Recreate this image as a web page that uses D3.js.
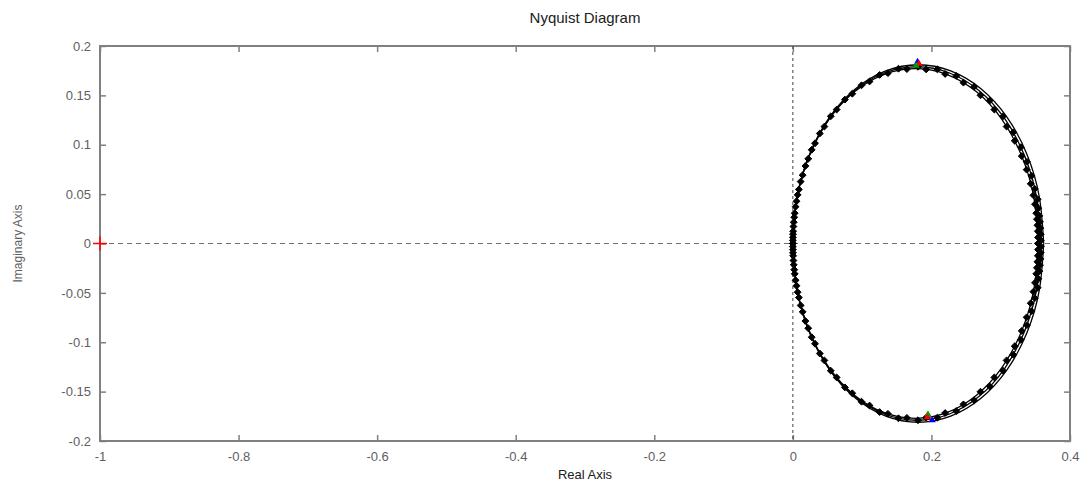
<!DOCTYPE html>
<html>
<head>
<meta charset="utf-8">
<script src="https://cdn.jsdelivr.net/npm/d3@7"></script>
<style>
  body { margin: 0; background: #fff; }
  text { font-family: "Liberation Sans", Arial, sans-serif; }
</style>
</head>
<body>
<div id="chart"></div>
<script>
// tick values and labels
var xTicks = [-1, -0.8, -0.6, -0.4, -0.2, 0, 0.2, 0.4]
var xLabels = ["-1", "-0.8", "-0.6", "-0.4", "-0.2", "0", "0.2", "0.4"]
var yTicks = [0.2, 0.15, 0.1, 0.05, 0, -0.05, -0.1, -0.15, -0.2]
var yLabels = ["0.2", "0.15", "0.1", "0.05", "0", "-0.05", "-0.1", "-0.15", "-0.2"]

// upper half of each Nyquist curve (w > 0)
var curveRe = [
    [0.362, 0.3558, 0.3378, 0.3090, 0.2715, 0.2278, 0.181, 0.1342, 0.0905, 0.0530, 0.0242, 0.0062, 0],
    [0.358, 0.3519, 0.3340, 0.3056, 0.2685, 0.2253, 0.179, 0.1327, 0.0895, 0.0524, 0.0240, 0.0061, 0],
    [0.354, 0.3480, 0.3303, 0.3022, 0.2655, 0.2228, 0.177, 0.1312, 0.0885, 0.0518, 0.0237, 0.0060, 0]
]
var curveIm = [
    [0, 0.0468, 0.0905, 0.1280, 0.1567, 0.1748, 0.181, 0.1748, 0.1567, 0.1280, 0.0905, 0.0468, 0],
    [0, 0.0463, 0.0895, 0.1266, 0.1550, 0.1729, 0.179, 0.1729, 0.1550, 0.1266, 0.0895, 0.0463, 0],
    [0, 0.0458, 0.0885, 0.1252, 0.1533, 0.1710, 0.177, 0.1710, 0.1533, 0.1252, 0.0885, 0.0458, 0]
]

// frequency response samples (black dots), upper half, inner curve
var sampleRe = [0.354, 0.3539, 0.3536, 0.3530, 0.3523, 0.3513, 0.3495, 0.3472, 0.3433, 0.3374,
    0.3303, 0.3202, 0.3085, 0.2908, 0.2708, 0.2462, 0.2198, 0.1924, 0.1646, 0.1372,
    0.1107, 0.0858, 0.0632, 0.0455, 0.0320, 0.0222, 0.0141, 0.0087, 0.0053, 0.0027,
    0.0013, 0.0004, 0.0001, 0]
var sampleIm = [0, 0.0062, 0.0124, 0.0185, 0.0246, 0.0307, 0.0398, 0.0488, 0.0605, 0.0748,
    0.0885, 0.1040, 0.1184, 0.1356, 0.1501, 0.1629, 0.1717, 0.1763, 0.1766, 0.1725,
    0.1641, 0.1517, 0.1356, 0.1184, 0.1015, 0.0858, 0.0692, 0.0547, 0.0428, 0.0307,
    0.0216, 0.0124, 0.0062, 0]

// second set of samples, middle curve
var sample2Re = [0.3580, 0.3578, 0.3573, 0.3567, 0.3558, 0.3544, 0.3533, 0.3492, 0.3444, 0.3378,
    0.3291, 0.3181, 0.3033, 0.2842, 0.2617, 0.2358, 0.2085, 0.1806, 0.1525, 0.1252,
    0.0991, 0.0751, 0.0547, 0.0389, 0.0272, 0.0181, 0.0113, 0.0069, 0.0039, 0.0020,
    0.0008, 0.0002, 0.0000]
var sample2Im = [0.0031, 0.0094, 0.0156, 0.0218, 0.0280, 0.0357, 0.0448, 0.0553, 0.0685, 0.0827,
    0.0975, 0.1126, 0.1288, 0.1448, 0.1588, 0.1697, 0.1765, 0.1790, 0.1770, 0.1707,
    0.1602, 0.1457, 0.1288, 0.1114, 0.0949, 0.0785, 0.0627, 0.0493, 0.0372, 0.0265,
    0.0172, 0.0094, 0.0031]

// coloured markers near the top and bottom of the curves
var markRe = [0.180, 0.182, 0.178, 0.195, 0.194, 0.201]
var markIm = [0.184, 0.182, 0.180, -0.173, -0.176, -0.179]
var markColor = ["#0000ff", "#ff0000", "#00a000", "#00a000", "#ff0000", "#0000ff"]

var width = 1089, height = 486
var margin = { top: 46, right: 19, bottom: 45, left: 100 }
var w = width - margin.left - margin.right
var h = height - margin.top - margin.bottom

var svg = d3.select("#chart")
    .append("svg")
    .attr("width", width)
    .attr("height", height)

var g = svg.append("g")
    .attr("transform", "translate(" + margin.left + "," + margin.top + ")")

var x = d3.scaleLinear().domain([-1, 0.4]).range([0, w])
var y = d3.scaleLinear().domain([-0.2, 0.2]).range([h, 0])

var axisColor = "#808080"

// axes with inward ticks on all four sides
function styleAxis(sel) {
    sel.select(".domain").remove()
    sel.selectAll("line").attr("stroke", axisColor).attr("stroke-width", 1.5)
    sel.selectAll("text")
        .attr("fill", "#606060")
        .style("font-size", "13px")
}

var xAxis = g.append("g")
    .attr("transform", "translate(0," + h + ")")
    .call(d3.axisBottom(x).tickValues(xTicks).tickSize(-6).tickPadding(11)
        .tickFormat((d, i) => xLabels[i]))
styleAxis(xAxis)

g.append("g")
    .call(d3.axisTop(x).tickValues(xTicks).tickSize(-6).tickFormat(""))
    .call(styleAxis)

var yAxis = g.append("g")
    .call(d3.axisLeft(y).tickValues(yTicks).tickSize(-6).tickPadding(9)
        .tickFormat((d, i) => yLabels[i]))
styleAxis(yAxis)

g.append("g")
    .attr("transform", "translate(" + w + ",0)")
    .call(d3.axisRight(y).tickValues(yTicks).tickSize(-6).tickFormat(""))
    .call(styleAxis)

// box
g.append("rect")
    .attr("width", w).attr("height", h)
    .attr("fill", "none")
    .attr("stroke", axisColor)
    .attr("stroke-width", 2)

// zero lines
g.append("line")
    .attr("x1", 0).attr("x2", w)
    .attr("y1", y(0)).attr("y2", y(0))
    .attr("stroke", "#707070").attr("stroke-dasharray", "5,4")
g.append("line")
    .attr("x1", x(0)).attr("x2", x(0))
    .attr("y1", 0).attr("y2", h)
    .attr("stroke", "#404040").attr("stroke-dasharray", "3,3")

var line = d3.line()
    .x(d => x(d[0]))
    .y(d => y(d[1]))
    .curve(d3.curveNatural)

// curves: positive frequencies and their conjugate mirror
for (let k = 0; k < curveRe.length; k++) {
    let up = curveRe[k].map((r, i) => [r, curveIm[k][i]])
    let down = curveRe[k].map((r, i) => [r, -curveIm[k][i]])
    g.append("path").datum(up).attr("d", line)
        .attr("fill", "none").attr("stroke", "#000").attr("stroke-width", 1.3)
    g.append("path").datum(down).attr("d", line)
        .attr("fill", "none").attr("stroke", "#000").attr("stroke-width", 1.3)
}

var samples = []
sampleRe.forEach((r, i) => {
    samples.push([r, sampleIm[i]])
    samples.push([r, -sampleIm[i]])
})
sample2Re.forEach((r, i) => {
    samples.push([r, sample2Im[i]])
    samples.push([r, -sample2Im[i]])
})

var diamond = d3.symbol().type(d3.symbolDiamond2).size(30)
g.selectAll(".samp")
    .data(samples)
    .enter()
    .append("path")
    .attr("class", "samp")
    .attr("transform", d => "translate(" + x(d[0]) + "," + y(d[1]) + ")")
    .attr("d", diamond)
    .attr("fill", "#000")
    .attr("stroke", "#000")
    .attr("stroke-width", 1)

var tri = d3.symbol().type(d3.symbolTriangle).size(22)
g.selectAll(".mark")
    .data(markRe.map((r, i) => [r, markIm[i], markColor[i]]))
    .enter()
    .append("path")
    .attr("class", "mark")
    .attr("transform", d => "translate(" + x(d[0]) + "," + y(d[1]) + ")")
    .attr("d", tri)
    .attr("fill", d => d[2])

// critical point -1
g.append("path")
    .attr("transform", "translate(" + x(-1) + "," + y(0) + ")")
    .attr("d", "M-7,0H7M0,-7V7")
    .attr("stroke", "#ff0000").attr("stroke-width", 1.5)

// titles
svg.append("text")
    .attr("x", margin.left + w / 2).attr("y", 23)
    .attr("text-anchor", "middle")
    .style("font-size", "15px")
    .attr("fill", "#202020")
    .text("Nyquist Diagram")

svg.append("text")
    .attr("x", margin.left + w / 2).attr("y", 479)
    .attr("text-anchor", "middle")
    .style("font-size", "13px")
    .attr("fill", "#202020")
    .text("Real Axis")

svg.append("text")
    .attr("transform", "translate(22," + (margin.top + y(0)) + ") rotate(-90)")
    .attr("text-anchor", "middle")
    .style("font-size", "12px")
    .attr("fill", "#606060")
    .text("Imaginary Axis")
</script>
</body>
</html>
